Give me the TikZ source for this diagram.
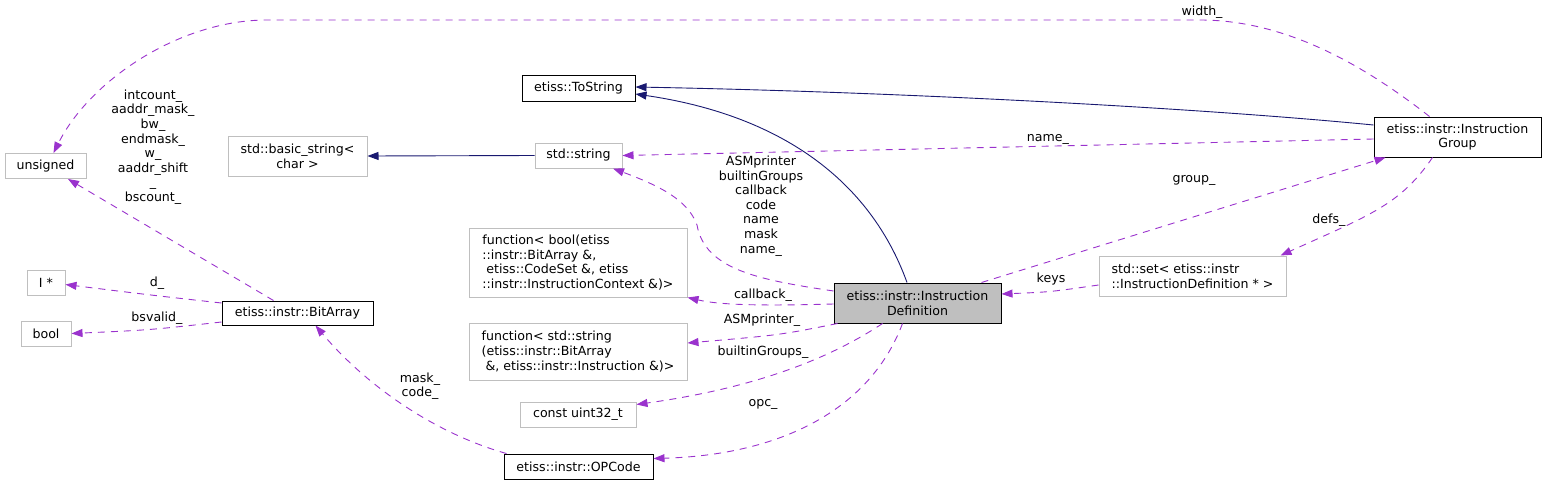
\documentclass[tikz,border=0pt]{standalone}
\usepackage{fontspec}
\setmainfont{DejaVu Sans}
\usetikzlibrary{arrows.meta}
\definecolor{orch}{HTML}{9A32CD}
\definecolor{navyb}{HTML}{191970}
\definecolor{greyb}{HTML}{BFBFBF}
\tikzset{
  txt/.style={font=\fontsize{12.6}{14.6}\selectfont},
  gbox/.style={txt, draw=greyb, line width=1pt, inner sep=0pt, align=center},
  kbox/.style={txt, draw=black, line width=1pt, inner sep=0pt, align=center},
  inh/.style={draw=navyb, line width=0.9pt, -{Triangle[length=11pt,width=8pt]}},
  use/.style={draw=orch, line width=0.9pt, dash pattern=on 7pt off 6pt, -{Triangle[length=11pt,width=8pt]}},
  lbl/.style={txt, inner sep=0pt, align=center},
}
\begin{document}
\begin{tikzpicture}[x=1pt,y=-1pt]
\useasboundingbox (0,0) rectangle (1547,485);
% nodes
\node[gbox, minimum width=81pt, minimum height=25pt] (unsigned) at (45.5,166) {unsigned};
\node[gbox, minimum width=38pt, minimum height=25pt] (istar) at (46,282.5) {I *};
\node[gbox, minimum width=50pt, minimum height=25pt] (bool) at (46,333.5) {bool};
\node[kbox, minimum width=151pt, minimum height=24pt] (bitarray) at (297.5,313) {etiss::instr::BitArray};
\node[gbox, minimum width=139pt, minimum height=40pt] (basicstr) at (297.5,156) {std::basic\_string<\\char >};
\node[kbox, minimum width=113pt, minimum height=26pt] (tostring) at (578.5,88) {etiss::ToString};
\node[gbox, minimum width=87pt, minimum height=25pt] (stdstring) at (578.5,155.5) {std::string};
\node[gbox, align=left, minimum width=218pt, minimum height=69pt] (fbool) at (578,262.5)
  {function< bool(etiss\\::instr::BitArray \&,\\\hspace*{4pt}etiss::CodeSet \&, etiss\\::instr::InstructionContext \&)>};
\node[gbox, align=left, minimum width=218pt, minimum height=57pt] (fstr) at (578,351.5)
  {function< std::string\\(etiss::instr::BitArray\\\hspace*{4pt}\&, etiss::instr::Instruction \&)>};
\node[gbox, minimum width=116pt, minimum height=25pt] (uint) at (578,414.5) {const uint32\_t};
\node[kbox, minimum width=149pt, minimum height=25pt] (opcode) at (578.5,466.5) {etiss::instr::OPCode};
\node[kbox, fill=greyb, minimum width=167pt, minimum height=40pt] (def) at (917.5,303) {etiss::instr::Instruction\\Definition};
\node[gbox, align=left, minimum width=187pt, minimum height=40pt] (stdset) at (1192.5,276) {std::set< etiss::instr\\::InstructionDefinition * >};
\node[kbox, minimum width=167pt, minimum height=40pt] (group) at (1457.5,137) {etiss::instr::Instruction\\Group};

% inheritance edges
\draw[inh] (stdstring.west) -- (basicstr.east);
\draw[inh] ([xshift=-10.5pt]def.north) .. controls (870,180) and (780,115) .. ([yshift=-6pt]tostring.east);
\draw[inh] ([yshift=12pt]group.west) .. controls (1200,108) and (900,92) .. ([yshift=1pt]tostring.east);

% usage edges
\draw[use] ([xshift=-24pt]bitarray.north) -- ([xshift=22.5pt]unsigned.south);
\draw[use] ([xshift=-28pt]group.north) .. controls (1370,70) and (1290,20) .. (1200,20) -- (267,20) .. controls (180,20) and (90,80) .. ([xshift=8pt]unsigned.north);
\draw[use] ([yshift=10pt]bitarray.west) .. controls (150,295) .. ([yshift=-2pt]istar.east);
\draw[use] ([yshift=-9pt]bitarray.west) .. controls (150,330) .. (bool.east);
\draw[use] ([yshift=-2pt]group.west) -- (stdstring.east);
\draw[use] ([yshift=12pt]def.west) .. controls (760,280) and (705,270) .. (697,225) .. controls (688,200) and (660,186) .. ([xshift=34.5pt]stdstring.south);
\draw[use] ([yshift=-1pt]def.west) .. controls (760,306) and (720,305) .. (fbool.south east);
\draw[use] ([xshift=4pt]def.south west) .. controls (780,335) .. ([yshift=8.5pt]fstr.east);
\draw[use] ([xshift=-35pt]def.south) .. controls (820,365) and (740,390) .. ([yshift=10pt]uint.east);
\draw[use] ([xshift=-15pt]def.south) .. controls (870,410) and (780,455) .. ([yshift=8pt]opcode.east);
\draw[use] ([xshift=-72pt]opcode.north) .. controls (440,435) and (370,390) .. ([xshift=18pt]bitarray.south);
\draw[use] ([xshift=64pt]def.north) -- ([xshift=12pt]group.south west);
\draw[use] ([yshift=-9pt]stdset.west) .. controls (1050,292) .. ([yshift=9pt]def.east);
\draw[use] ([xshift=-25pt]group.south) .. controls (1400,205) and (1370,215) .. ([xshift=88pt]stdset.north);

% labels
\node[lbl] (l1) at (153,147) {intcount\_\\aaddr\_mask\_\\bw\_\\endmask\_\\w\_\\aaddr\_shift\\\_\\bscount\_};
\node[lbl] (l2) at (1202,12) {width\_};
\node[lbl] (l3) at (157,283) {d\_};
\node[lbl] (l4) at (157,318) {bsvalid\_};
\node[lbl] (l5) at (1048,139) {name\_};
\node[lbl] (l6) at (761,206) {ASMprinter\\builtinGroups\\callback\\code\\name\\mask\\name\_};
\node[lbl] (l7) at (763,295) {callback\_};
\node[lbl] (l8) at (762,320) {ASMprinter\_};
\node[lbl] (l9) at (763,352) {builtinGroups\_};
\node[lbl] (l10) at (763,404) {opc\_};
\node[lbl] (l11) at (420,386) {mask\_\\code\_};
\node[lbl] (l12) at (1194,180) {group\_};
\node[lbl] (l13) at (1051,279) {keys};
\node[lbl] (l14) at (1329,220) {defs\_};
\end{tikzpicture}
\end{document}
